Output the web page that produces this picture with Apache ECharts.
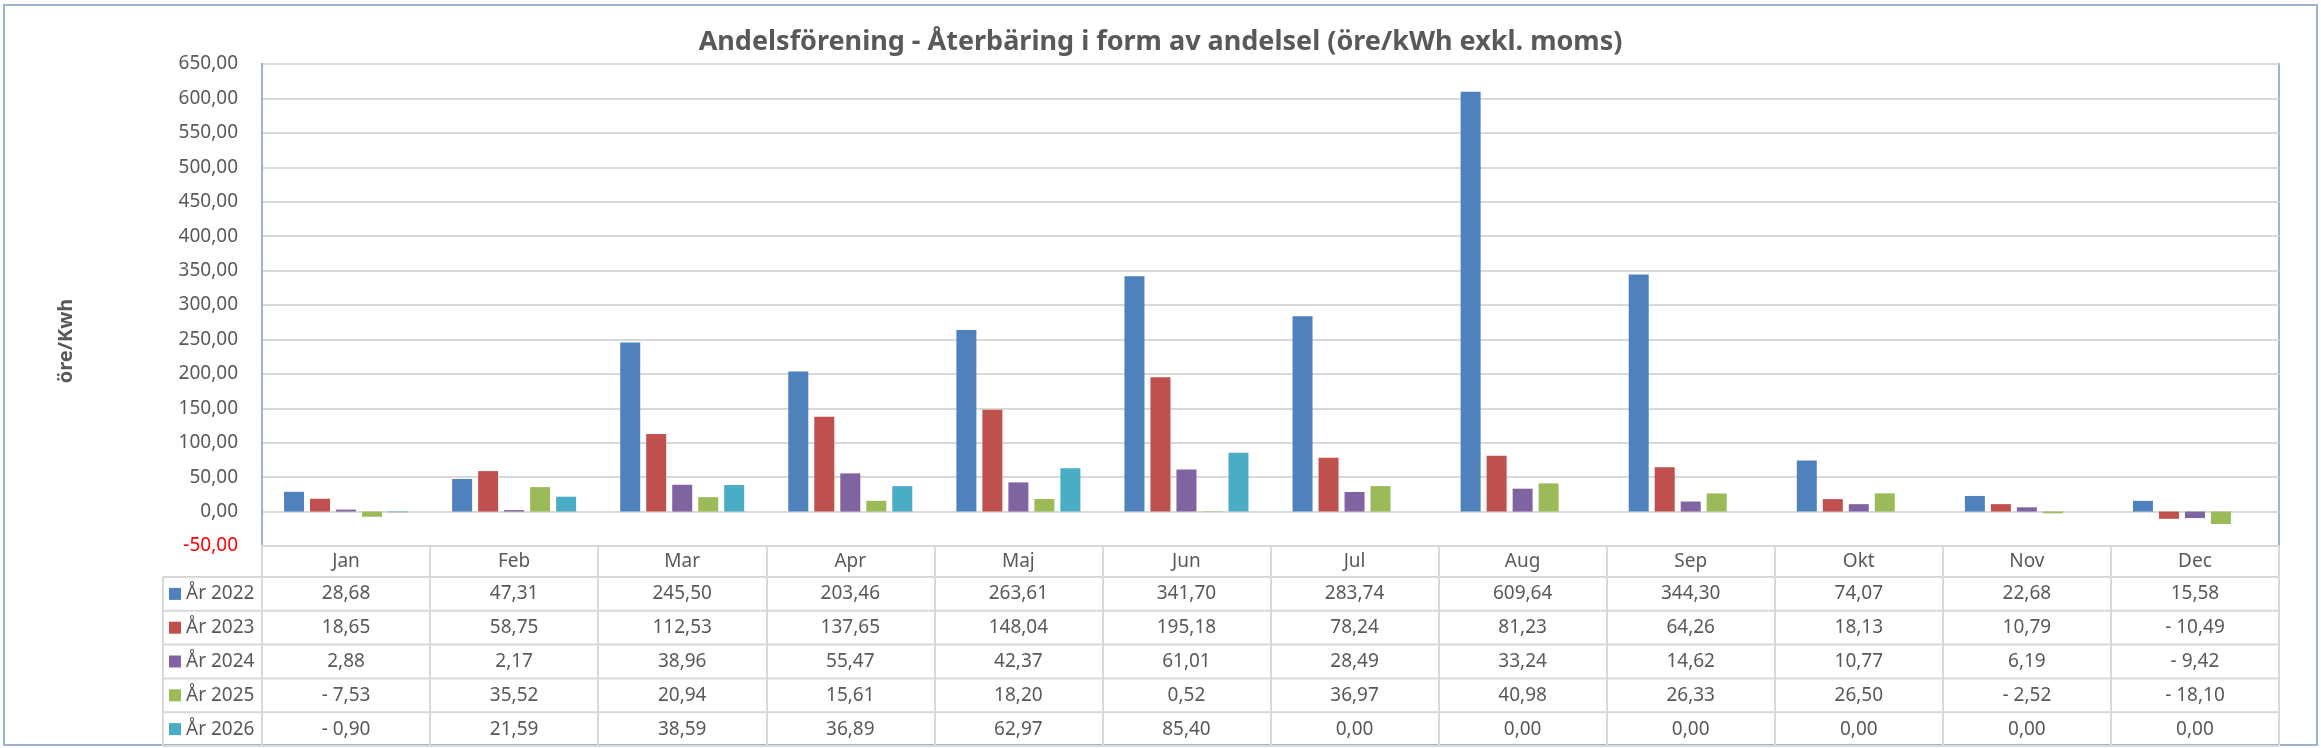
<!DOCTYPE html>
<html>
<head>
<meta charset="utf-8">
<title>Andelsförening - Återbäring</title>
<script src="https://cdn.jsdelivr.net/npm/echarts@6/dist/echarts.min.js"></script>
<style>
  html, body { margin: 0; padding: 0; background: #fff; }
  #chart { width: 2321px; height: 748px; }
</style>
</head>
<body>
<div id="chart"></div>
<script>
// data
const months = ['Jan', 'Feb', 'Mar', 'Apr', 'Maj', 'Jun', 'Jul', 'Aug', 'Sep', 'Okt', 'Nov', 'Dec'];
const seriesNames = ['År 2022', 'År 2023', 'År 2024', 'År 2025', 'År 2026'];
const y2022 = [28.68, 47.31, 245.50, 203.46, 263.61, 341.70, 283.74, 609.64, 344.30, 74.07, 22.68, 15.58];
const y2023 = [18.65, 58.75, 112.53, 137.65, 148.04, 195.18, 78.24, 81.23, 64.26, 18.13, 10.79, -10.49];
const y2024 = [2.88, 2.17, 38.96, 55.47, 42.37, 61.01, 28.49, 33.24, 14.62, 10.77, 6.19, -9.42];
const y2025 = [-7.53, 35.52, 20.94, 15.61, 18.20, 0.52, 36.97, 40.98, 26.33, 26.50, -2.52, -18.10];
const y2026 = [-0.90, 21.59, 38.59, 36.89, 62.97, 85.40, 0.00, 0.00, 0.00, 0.00, 0.00, 0.00];
const yMin = -50;
const yMax = 650;
const yStep = 50;

const allSeries = [y2022, y2023, y2024, y2025, y2026];
const colors = ['#4F81BD', '#C0504D', '#8064A2', '#9BBB59', '#4BACC6'];

// layout
const W = 2321, H = 748;
const plotLeft = 262, plotRight = 2279, plotTop = 64, plotBottom = 546;
const headH = 31, rowH = 33.8;
const legendLeft = 163;
const font = '"Noto Sans", sans-serif';
const textGray = '#595959';
const lineGray = '#D9D9D9';
const frameBlue = '#9DB3CF';

const fmtAxis = v => v.toFixed(2).replace('.', ',');
const fmtCell = v => (v < 0 ? '- ' + Math.abs(v).toFixed(2) : v.toFixed(2)).replace('.', ',');

const chart = echarts.init(document.getElementById('chart'));

// month axis: labels in the header row, ticks make the table columns
const xAxes = [{
  type: 'category',
  data: months,
  position: 'bottom',
  axisLine: { onZero: false, lineStyle: { color: lineGray, width: 2 } },
  axisTick: { show: true, interval: 0, length: H - 2 - plotBottom, lineStyle: { color: lineGray, width: 2 } },
  axisLabel: { interval: 0, margin: headH / 2, verticalAlign: 'middle', color: textGray, fontSize: 19, fontFamily: font },
  splitLine: { show: false }
}];

// one extra axis per table row, carrying the values as labels
allSeries.forEach((vals, i) => {
  xAxes.push({
    type: 'category',
    data: months,
    position: 'bottom',
    offset: headH + i * rowH,
    axisLine: { show: false, onZero: false },
    axisTick: { show: false },
    splitLine: { show: false },
    axisLabel: {
      interval: 0,
      margin: rowH / 2,
      verticalAlign: 'middle',
      color: textGray,
      fontSize: 19,
      fontFamily: font,
      formatter: (v, idx) => fmtCell(vals[idx])
    }
  });
});

// table horizontal lines and frame bits outside the grid
const graphics = [{
  type: 'rect',
  shape: { x: 4, y: 5, width: W - 8, height: H - 8 },
  style: { fill: null, stroke: frameBlue, lineWidth: 2 },
  silent: true
}, {
  type: 'line',
  shape: { x1: legendLeft, y1: plotBottom + headH, x2: legendLeft, y2: H - 2 },
  style: { stroke: lineGray, lineWidth: 2 },
  silent: true
}, {
  type: 'text',
  x: 66,
  y: 341,
  rotation: Math.PI / 2,
  style: { text: 'öre/Kwh', fill: textGray, font: 'bold 20px ' + font, align: 'center', verticalAlign: 'middle' },
  silent: true
}];
for (let i = 0; i <= seriesNames.length; i++) {
  const y = plotBottom + headH + i * rowH;
  graphics.push({
    type: 'line',
    shape: { x1: legendLeft, y1: y, x2: plotRight, y2: y },
    style: { stroke: lineGray, lineWidth: 2 },
    silent: true
  });
}

chart.setOption({
  animation: false,
  color: colors,
  title: {
    text: 'Andelsförening - Återbäring i form av andelsel (öre/kWh exkl. moms)',
    left: 'center',
    top: 29,
    padding: 0,
    textStyle: { color: textGray, fontSize: 27, fontWeight: 'bold', fontFamily: font }
  },
  legend: {
    data: seriesNames,
    orient: 'vertical',
    left: legendLeft + 6,
    top: plotBottom + headH + (rowH - 20) / 2,
    padding: 0,
    itemWidth: 12,
    itemHeight: 12,
    itemGap: rowH - 20,
    icon: 'rect',
    textStyle: { color: textGray, fontSize: 19, fontFamily: font, lineHeight: 20 }
  },
  grid: {
    left: plotLeft,
    right: W - plotRight,
    top: plotTop,
    bottom: H - plotBottom,
    show: true,
    borderColor: frameBlue,
    borderWidth: 2,
    containLabel: false
  },
  xAxis: xAxes,
  yAxis: {
    type: 'value',
    min: yMin,
    max: yMax,
    interval: yStep,
    axisLine: { show: true, lineStyle: { color: frameBlue, width: 2 } },
    axisTick: { show: false },
    splitLine: { lineStyle: { color: lineGray, width: 2 } },
    axisLabel: {
      margin: 24,
      fontSize: 19,
      fontFamily: font,
      formatter: fmtAxis,
      color: v => (Number(v) < 0 ? '#FF0000' : textGray)
    }
  },
  graphic: graphics,
  series: allSeries.map((vals, i) => ({
    name: seriesNames[i],
    type: 'bar',
    xAxisIndex: 0,
    data: vals,
    barWidth: 20,
    barGap: '30%',
    itemStyle: { color: colors[i] }
  }))
});
</script>
</body>
</html>
